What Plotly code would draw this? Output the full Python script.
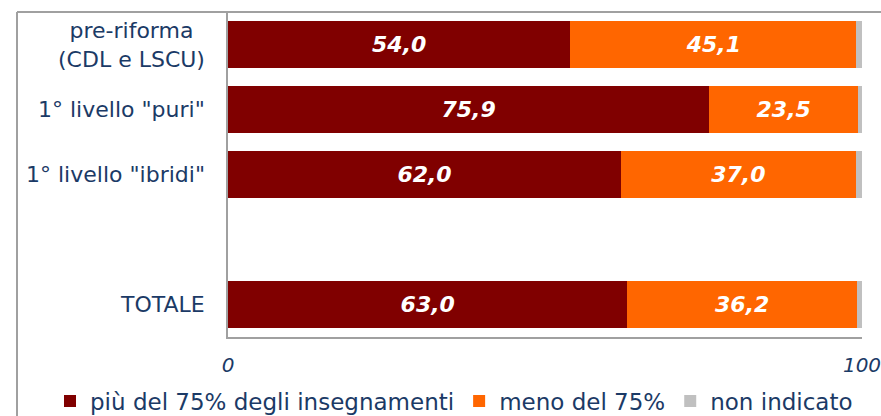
import plotly.graph_objects as go

categories = ["pre-riforma<br>(CDL e LSCU)", "1° livello \"puri\"", "1° livello \"ibridi\"", " ", "TOTALE"]
bar_categories = ["pre-riforma<br>(CDL e LSCU)", "1° livello \"puri\"", "1° livello \"ibridi\"", "TOTALE"]
piu_75 = [54.0, 75.9, 62.0, 63.0]
meno_75 = [45.1, 23.5, 37.0, 36.2]
non_indicato = [0.9, 0.6, 1.0, 0.8]
series_names = ["più del 75% degli insegnamenti", "meno del 75%", "non indicato"]
tick_vals = [0, 100]
tick_text = ["0", "100"]

FONT = "DejaVu Sans"
TXT = "#1B3A66"
GRID = "#A0A0A0"
O = 0  # page body margin (removed by post_script)
W, H = 881 - O, 416 - O
L, R, T, B = 228 - O, 19, 12 - O, 416 - 337
pw, ph = W - L - R, H - T - B


def px2x(p):  # page px -> paper x
    return (p - O - L) / pw


def py2y(p):  # page px -> paper y
    return (H - B - (p - O)) / ph


def fmt(v):
    return f"{v:.1f}".replace(".", ",")


fig = go.Figure()
colors = ["#800000", "#FF6600", "#C0C0C0"]
for name, vals, col, show_text in zip(series_names, [piu_75, meno_75, non_indicato], colors, [True, True, False]):
    fig.add_trace(go.Bar(
        y=bar_categories, x=vals, name=name, orientation="h",
        marker=dict(color=col, line=dict(width=0)),
        text=[fmt(v) for v in vals] if show_text else None,
        textposition="inside" if show_text else "none",
        insidetextanchor="middle", textangle=0,
        textfont=dict(family=FONT, size=22, color="white", weight="bold", style="italic"),
        hoverinfo="skip",
    ))

for c in bar_categories:
    fig.add_annotation(
        x=px2x(207), xref="paper", y=c, yref="y", text=c, showarrow=False,
        xanchor="right", yanchor="middle", align="center",
        font=dict(family=FONT, size=22, color=TXT),
    )

# outer frame
fig.add_shape(type="line", xref="paper", yref="paper", x0=px2x(17), x1=px2x(900),
              y0=1, y1=1, line=dict(color=GRID, width=2))
fig.add_shape(type="line", xref="paper", yref="paper", x0=px2x(17), x1=px2x(17),
              y0=1, y1=py2y(440), line=dict(color=GRID, width=2))

fig.update_layout(
    width=W, height=H, margin=dict(l=L, r=R, t=T, b=B, autoexpand=False),
    barmode="stack", bargap=0.29,
    paper_bgcolor="white", plot_bgcolor="white",
    font=dict(family=FONT, color=TXT),
    xaxis=dict(range=[0, 100], tickvals=tick_vals, ticktext=tick_text, showgrid=False,
               zeroline=False, showline=True, linecolor=GRID, linewidth=2,
               tickfont=dict(family=FONT, size=20, color=TXT, style="italic"),
               ticks="", ticklabelstandoff=9, ticklabeloverflow="allow",
               fixedrange=True, automargin=False),
    yaxis=dict(type="category", categoryorder="array", categoryarray=categories,
               range=[len(categories) - 0.5, -0.5], showticklabels=False, showgrid=False,
               zeroline=False, showline=True, linecolor=GRID, linewidth=2, ticks="",
               fixedrange=True, automargin=False),
    showlegend=True,
    legend=dict(orientation="h", x=px2x(50), xanchor="left", y=py2y(401), yanchor="middle",
                font=dict(family=FONT, size=23, color=TXT), bgcolor="rgba(0,0,0,0)",
                traceorder="normal", itemclick=False),
)

fig.write_html(
    "out.html",
    config={"displayModeBar": False},
    post_script="document.body.style.margin='0';document.body.style.overflow='hidden';",
)
